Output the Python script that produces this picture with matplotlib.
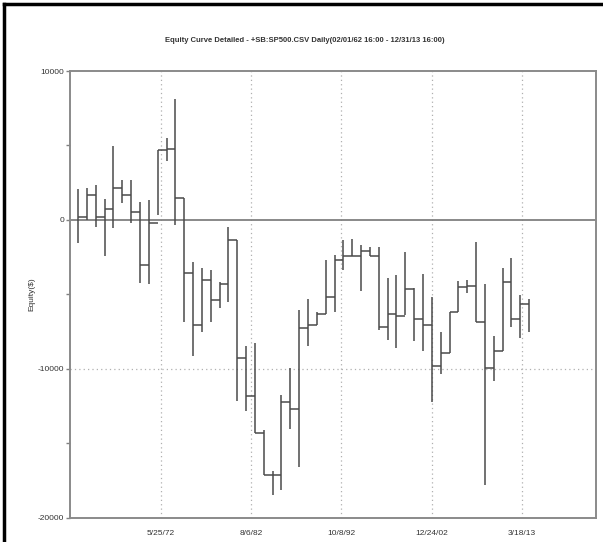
import matplotlib
matplotlib.use("Agg")
import matplotlib.pyplot as plt
from matplotlib.lines import Line2D
from datetime import datetime

plt.rcParams['font.family'] = ['Liberation Sans', 'DejaVu Sans']

# one bar per year: high / low range, and the closing level carried to the next bar
years = list(range(1963, 2015))
highs = [2080, 2127, 2349, 1409, 4986, 2684, 2664, 1228, 1342, 4697,
         5482, 8099, 1496, -2798, -3241, -3355, -4140, -450, -1342, -8502,
         -8273, -14091, -16889, -11743, -9951, -6039, -5321, -6153, -2684, -2349,
         -1342, -1295, -1678, -1792, -1792, -3912, -3691, -2167, -4583, -3623,
         -5147, -7495, -6193, -4093, -4026, -1496, -4315, -7784, -3201, -2530,
         -5033, -5321]
lows = [-1563, 0, -450, -2395, -517, 1121, -221, -4247, -4294, 336,
        3959, -336, -6824, -9173, -7495, -6824, -5925, -5482, -12192, -12863,
        -14313, -17157, -18453, -18164, -14024, -16594, -8455, -7046, -6328, -6193,
        -3355, -2416, -4744, -2416, -7381, -8052, -8609, -6375, -8166, -8837,
        -12232, -10333, -8944, -6193, -4918, -6824, -17782, -10803, -8837, -7160,
        -7938, -7515]
closes = [181, 1678, 221, 718, 2167, 1678, 517, -2999, -181, 4697,
          4784, 1496, -3576, -7046, -4026, -5368, -4315, -1342, -9280, -11857,
          -14313, -17157, -17157, -12232, -12682, -7227, -7046, -6328, -5147, -2684,
          -2416, -2416, -2060, -2416, -7160, -6328, -6421, -4630, -6643, -7092,
          -9844, -8944, -6193, -4476, -4429, -6824, -9951, -8837, -4140, -6643,
          -5657]

dates = [datetime(y, 1, 1) for y in years]
tick_dates = [datetime(1972, 5, 25), datetime(1982, 8, 6), datetime(1992, 10, 8),
              datetime(2002, 12, 24), datetime(2013, 3, 18)]
tick_labels = ["5/25/72", "8/6/82", "10/8/92", "12/24/02", "3/18/13"]

fig = plt.figure(figsize=(6.03, 5.42), dpi=100)
ax = fig.add_axes([70/603, 24.3/542, 526/603, 446.7/542])

line_col = "#4a4a4a"
for i, d in enumerate(dates):
    ax.plot([d, d], [lows[i], highs[i]], color=line_col, lw=1.1, solid_capstyle="butt")
    if i < len(closes):
        ax.plot([d, dates[i + 1]], [closes[i], closes[i]], color=line_col, lw=1.1,
                solid_capstyle="butt")

ax.axhline(0, color="#808080", lw=1.3, zorder=1)
ax.axhline(-10000, color="#b0b0b0", lw=0.9, ls=(0, (1, 2.5)), zorder=0)
for d in tick_dates:
    ax.axvline(d, color="#b0b0b0", lw=0.9, ls=(0, (1, 2.5)), zorder=0)

ax.set_xlim(datetime(1962, 2, 1), datetime(2021, 7, 25))
ax.set_ylim(-20000, 10000)
ax.set_xticks(tick_dates)
ax.set_xticklabels(tick_labels, fontsize=6, color="#333333")
ax.tick_params(axis="x", length=0, pad=9)
ax.set_yticks([-20000, -10000, 0, 10000])
ax.set_yticklabels(["-20000", "-10000", "0", "10000"], fontsize=6, color="#333333")
ax.set_yticks([-15000, -5000, 5000], minor=True)
ax.tick_params(axis="y", which="both", length=3, width=1, color="#808080", pad=1)
ax.set_ylabel("Equity($)", fontsize=6, color="#333333", labelpad=-4)
ax.yaxis.set_label_coords(-35/526, 0.5)

for s in ax.spines.values():
    s.set_color("#8a8a8a")
    s.set_linewidth(1.4)

fig.text(0.505, 1 - 40/542, "Equity Curve Detailed - +SB:SP500.CSV Daily(02/01/62 16:00 - 12/31/13 16:00)",
         ha="center", va="center", fontsize=5.5, fontweight="bold", color="#333333")

# black frame around the page
fig.add_artist(Line2D([4/603, 4/603], [0, 1 - 4/542], transform=fig.transFigure,
                      color="black", lw=2.5))
fig.add_artist(Line2D([4/603, 1], [1 - 4/542, 1 - 4/542], transform=fig.transFigure,
                      color="black", lw=2.5))

fig.savefig("out.png", dpi=100)
